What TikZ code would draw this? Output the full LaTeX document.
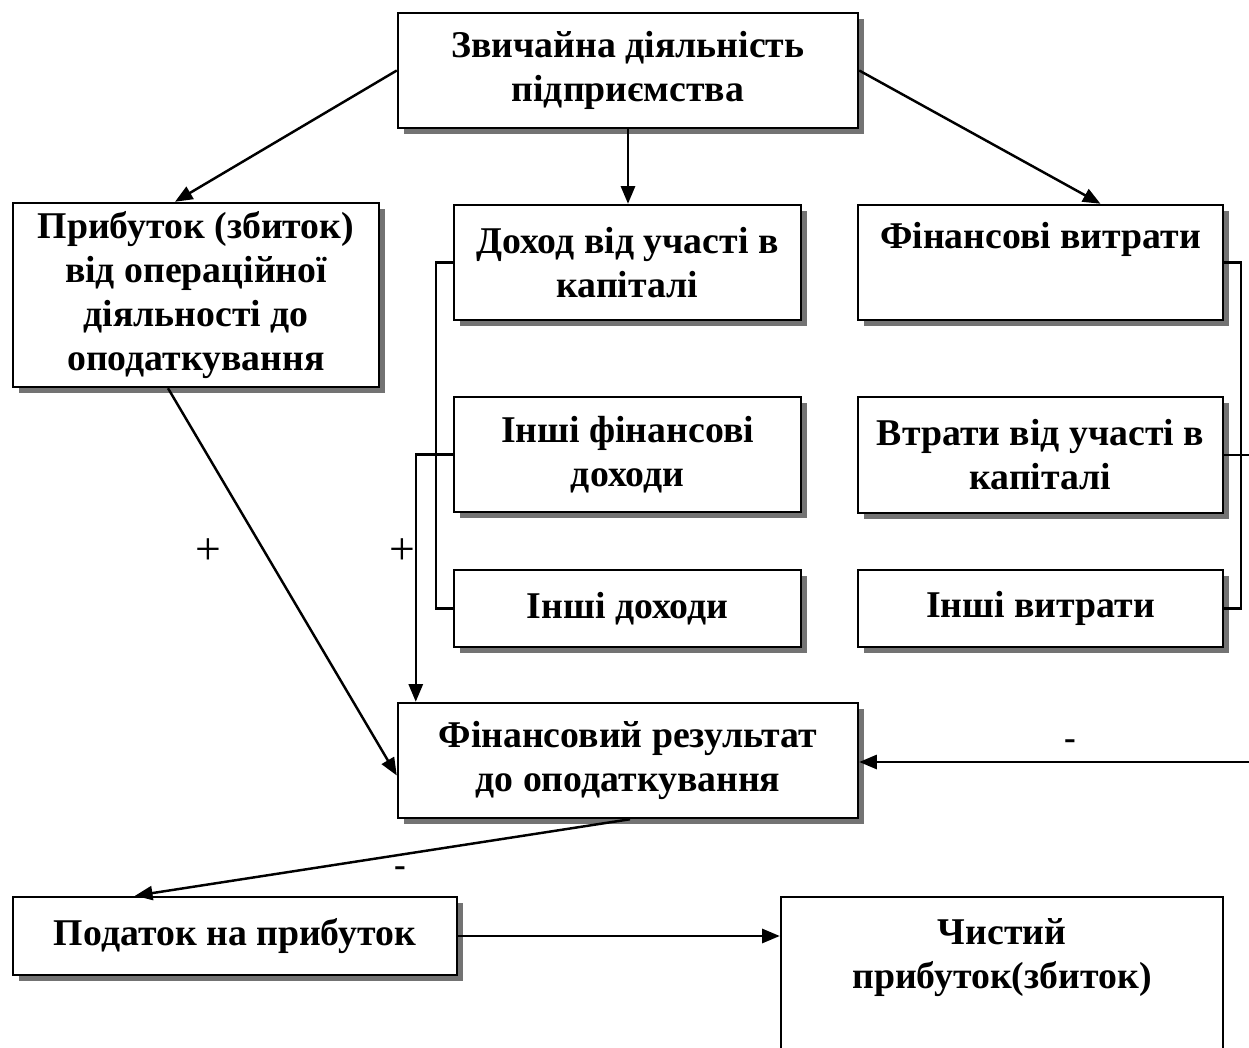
\documentclass[tikz,border=0pt]{standalone}
\usepackage{fontspec}
\setmainfont{Liberation Serif}
\usetikzlibrary{arrows.meta,calc,shadows}
\begin{document}
\begin{tikzpicture}[x=0.02cm,y=-0.02cm,
  box/.style={draw, line width=1.4pt, fill=white, align=center, inner sep=0pt,
    font=\bfseries\fontsize{21.5}{25}\selectfont,
    drop shadow={shadow xshift=0.12cm, shadow yshift=-0.12cm, fill=black!55, opacity=1}},
  flatbox/.style={draw, line width=1.4pt, fill=white, inner sep=0pt},
  txt/.style={align=center, inner sep=0pt, font=\bfseries\fontsize{21.5}{25}\selectfont},
  conn/.style={line width=1.4pt},
  arr/.style={conn, -{Triangle[length=10pt,width=8pt]}},
  sign/.style={inner sep=0pt, font=\fontsize{26}{30}\selectfont},
  bsign/.style={inner sep=0pt, font=\bfseries\fontsize{20}{24}\selectfont}
]
\useasboundingbox (0,0) rectangle (1249,1048);

\node[box, minimum width={460*0.02cm}, minimum height={115*0.02cm}] (top) at (628,70.5) {Звичайна діяльність\\підприємства};
\node[box, minimum width={366*0.02cm}, minimum height={184*0.02cm}] (prib) at (196,295) {Прибуток (збиток)\\від операційної\\діяльності до\\оподаткування};
\node[box, minimum width={347*0.02cm}, minimum height={115*0.02cm}] (dohod) at (627.5,262.5) {Доход від участі в\\капіталі};
\node[box, minimum width={347*0.02cm}, minimum height={115*0.02cm}] (inshfin) at (627.5,454.5) {Інші фінансові\\доходи};
\node[box, minimum width={347*0.02cm}, minimum height={77*0.02cm}] (inshdoh) at (627.5,608.5) {Інші доходи};
\node[box, minimum width={365*0.02cm}, minimum height={115*0.02cm}] (finvytr) at (1040.5,262.5) {\raisebox{-4pt}{Фінансові витрати}\\ \strut};
\node[box, minimum width={365*0.02cm}, minimum height={116*0.02cm}] (vtraty) at (1040.5,455) {Втрати від участі в\\капіталі};
\node[box, minimum width={365*0.02cm}, minimum height={77*0.02cm}] (inshvytr) at (1040.5,608.5) {Інші витрати};
\node[box, minimum width={460*0.02cm}, minimum height={115*0.02cm}] (finres) at (628,760.5) {Фінансовий результат\\до оподаткування};
\node[box, minimum width={444*0.02cm}, minimum height={78*0.02cm}] (podatok) at (235,936) {Податок на прибуток};
\node[flatbox, minimum width={442*0.02cm}, minimum height={220*0.02cm}] (chyst) at (1002,1007) {};
\node[txt] (chysttxt) at (1002,958) {Чистий\\прибуток(збиток)};

% connectors from top box
\draw[arr] (top.west) -- ($(prib.north)+(-21,0)$);
\draw[arr] (top.south) -- (top.south |- dohod.north);
\draw[arr] (top.east) -- ($(finvytr.north)+(60,0)$);

% left bracket
\draw[conn] (dohod.west) -- ++(-17,0) |- (inshdoh.west);
\coordinate (fin417) at ($(finres.north west)+(19,0)$);
\draw[arr] (inshfin.west) -- (inshfin.west -| fin417) -- (fin417);

% right bracket
\draw[conn] (finvytr.east) -- ++(17,0) |- (inshvytr.east);
\coordinate (vedge) at (1249,455);
\draw[conn] (vtraty.east) -- (vedge);
\coordinate (redge) at (1249,762);
\draw[arr] (redge) -- (redge -| finres.east);

% other arrows
\draw[arr] ($(prib.south)+(-28,0)$) -- ($(finres.west)+(0,15)$);
\draw[arr] ($(finres.south)+(2,0)$) -- ($(podatok.north)+(-100,0)$);
\draw[arr] (podatok.east) -- (podatok.east -| chyst.west);

% signs
\node[sign] (p1) at (208,552) {+};
\node[sign] (p2) at (402,552) {+};
\node[bsign] (m1) at (1070,745) {-};
\node[bsign] (m2) at (400,872) {-};
\end{tikzpicture}
\end{document}
